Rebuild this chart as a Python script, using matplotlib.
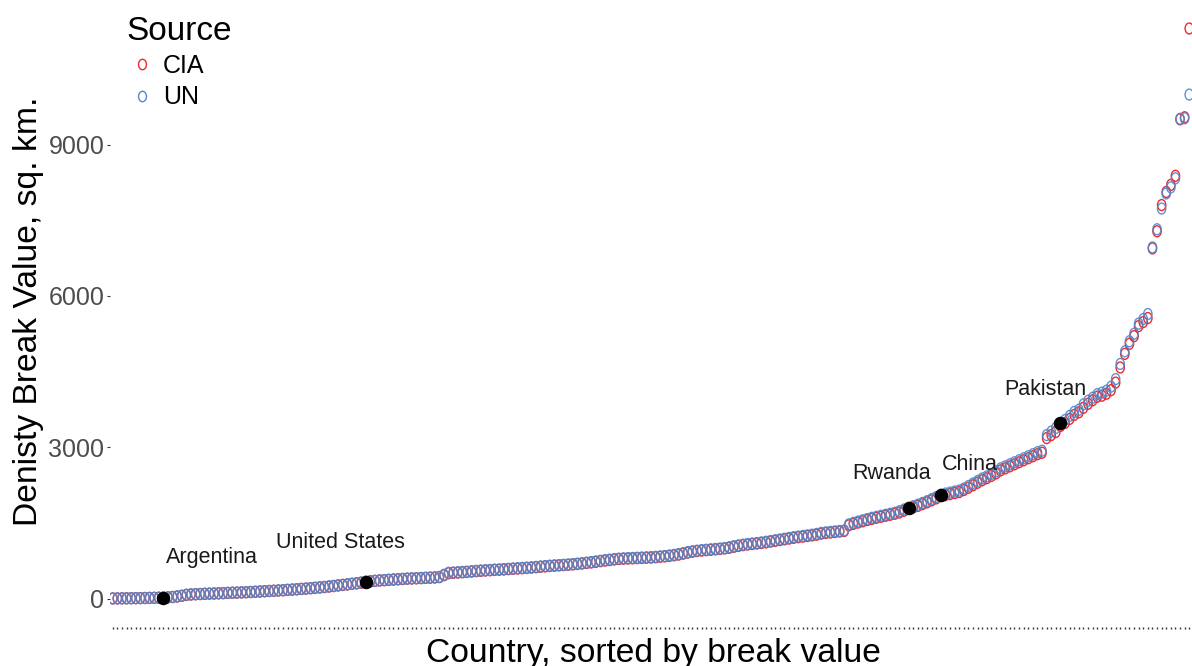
import numpy as np
import matplotlib
matplotlib.use("Agg")
from matplotlib import pyplot as plt
from matplotlib.path import Path
from matplotlib.transforms import Affine2D
from matplotlib.lines import Line2D

plt.rcParams['font.family'] = ['Liberation Sans', 'DejaVu Sans']

# density break values per country (people / sq. km), sorted by break value
un_values = [
    1, 2, 3, 4, 5, 6, 8, 9, 11, 13,
    15, 18, 24, 30, 42, 55, 76, 82, 86, 90,
    95, 98, 100, 104, 108, 112, 115, 118, 122, 126,
    130, 135, 140, 146, 150, 155, 160, 166, 172, 178,
    185, 192, 198, 206, 214, 222, 230, 240, 250, 262,
    272, 282, 294, 305, 318, 335, 345, 352, 360, 366,
    372, 378, 384, 390, 395, 399, 403, 407, 411, 415,
    420, 428, 470, 510, 515, 520, 526, 532, 540, 548,
    555, 560, 566, 572, 576, 582, 588, 594, 600, 606,
    612, 618, 626, 634, 642, 650, 656, 662, 668, 674,
    682, 690, 700, 710, 722, 734, 748, 760, 770, 782,
    790, 795, 800, 804, 808, 812, 816, 820, 826, 834,
    842, 852, 865, 880, 900, 920, 935, 948, 958, 966,
    975, 982, 990, 1000, 1015, 1035, 1052, 1068, 1080, 1090,
    1100, 1112, 1125, 1140, 1155, 1170, 1185, 1200, 1215, 1228,
    1240, 1252, 1265, 1280, 1300, 1310, 1320, 1330, 1340, 1350,
    1470, 1500, 1525, 1550, 1575, 1600, 1620, 1640, 1660, 1680,
    1700, 1730, 1765, 1800, 1830, 1860, 1895, 1930, 1970, 2010,
    2057, 2080, 2100, 2120, 2140, 2180, 2230, 2280, 2330, 2380,
    2420, 2470, 2520, 2580, 2620, 2660, 2700, 2740, 2780, 2820,
    2860, 2900, 2930, 3240, 3310, 3380, 3480, 3540, 3620, 3700,
    3740, 3850, 3920, 3980, 4050, 4080, 4120, 4200, 4350, 4650,
    4900, 5100, 5250, 5450, 5540, 5640, 6960, 7320, 7730, 8030,
    8150, 8330, 9510, 9520, 9990,
]

cia_values = [
    1, 2, 3, 4, 5, 7, 8, 10, 12, 14,
    16, 18, 23, 29, 40, 52, 70, 78, 84, 88,
    92, 96, 99, 102, 106, 110, 113, 116, 120, 124,
    128, 132, 138, 143, 148, 152, 158, 163, 170, 176,
    182, 189, 195, 203, 210, 218, 226, 236, 246, 258,
    268, 278, 290, 300, 312, 328, 340, 348, 356, 362,
    368, 374, 380, 386, 392, 396, 400, 404, 408, 412,
    416, 424, 462, 500, 508, 514, 520, 526, 534, 542,
    548, 554, 560, 566, 570, 576, 582, 588, 594, 600,
    606, 612, 620, 628, 636, 644, 650, 656, 662, 668,
    676, 684, 694, 704, 714, 726, 740, 752, 762, 774,
    782, 788, 792, 796, 800, 804, 808, 812, 818, 826,
    834, 844, 856, 870, 890, 910, 926, 940, 950, 958,
    966, 974, 982, 992, 1005, 1025, 1042, 1058, 1070, 1080,
    1090, 1100, 1112, 1128, 1142, 1158, 1172, 1188, 1202, 1215,
    1226, 1238, 1250, 1265, 1285, 1298, 1308, 1318, 1328, 1338,
    1450, 1480, 1505, 1530, 1555, 1578, 1600, 1620, 1640, 1660,
    1680, 1705, 1740, 1775, 1805, 1835, 1870, 1905, 1945, 1985,
    2030, 2050, 2070, 2090, 2110, 2150, 2195, 2245, 2295, 2345,
    2385, 2430, 2480, 2540, 2580, 2620, 2660, 2700, 2740, 2780,
    2820, 2860, 2890, 3180, 3240, 3300, 3420, 3480, 3560, 3640,
    3690, 3780, 3860, 3930, 4000, 4020, 4060, 4130, 4280, 4580,
    4850, 5050, 5200, 5400, 5480, 5560, 6940, 7280, 7800, 8060,
    8200, 8380, 9500, 9540, 11300,
]

# countries picked out on the curve: name, rank position
highlight_names = ["Argentina", "United States", "Rwanda", "China", "Pakistan"]
highlight_rank = [11, 55, 173, 180, 206]
# label offsets in points (dx, dy) from the highlighted point
label_offsets = [(35, 25), (-18, 24), (-12, 21), (21, 18), (-11, 20)]

y_ticks = [0, 3000, 6000, 9000]

RED = "#F0282D"
BLUE = "#4F88CC"

# open "o" shaped marker, a bit taller than wide
oval = Path.unit_circle().transformed(Affine2D().scale(0.76, 1.0))


def main():
    n = len(un_values)
    x = np.arange(n)
    un = np.array(un_values)
    cia = np.array(cia_values)

    fig = plt.figure(figsize=(11.92, 6.66), dpi=100)
    ax = fig.add_axes([110 / 1192, 39 / 666, 1082 / 1192, 627 / 666])

    ax.scatter(x, cia, marker=oval, s=62, facecolors="none",
               edgecolors=RED, linewidths=1.0, zorder=2)
    ax.scatter(x, un, marker=oval, s=62, facecolors="none",
               edgecolors=BLUE, linewidths=1.0, alpha=0.9, zorder=3)

    hx = np.array(highlight_rank)
    hy = un[hx]
    ax.scatter(hx, hy, s=75, color="black", zorder=4)
    for name, px, py, (dx, dy) in zip(highlight_names, hx, hy, label_offsets):
        ax.annotate(name, (px, py), xytext=(dx, dy), textcoords="offset points",
                    ha="center", va="baseline", fontsize=15.5, color="#1a1a1a")

    ymax = max(un.max(), cia.max())
    ax.set_xlim(-0.6, n - 1 + 0.6)
    ax.set_ylim(-0.05 * ymax, ymax * 1.05)

    ax.set_xticks(x)
    ax.set_xticklabels([])
    ax.set_yticks(y_ticks)
    ax.set_yticklabels([str(t) for t in y_ticks])
    ax.tick_params(axis="x", length=1.6, width=1.0, color="#333333")
    ax.tick_params(axis="y", length=2.5, width=0.8, color="#333333",
                   labelsize=18, labelcolor="#4D4D4D", pad=1.5)
    for side in ax.spines.values():
        side.set_visible(False)

    ax.set_xlabel("Country, sorted by break value", fontsize=24.2)
    ax.xaxis.set_label_coords(0.502, -0.018)
    ax.set_ylabel("Denisty Break Value, sq. km.", fontsize=24.2)
    ax.yaxis.set_label_coords(-0.061, 0.503)

    handles = [
        Line2D([], [], marker=oval, linestyle="none", markersize=7.5,
               markerfacecolor="none", markeredgecolor=RED, markeredgewidth=1.0),
        Line2D([], [], marker=oval, linestyle="none", markersize=7.5,
               markerfacecolor="none", markeredgecolor=BLUE, markeredgewidth=1.0),
    ]
    fig.legend(handles, ["CIA", "UN"], title="Source", loc="upper left",
               bbox_to_anchor=(119 / 1192, 1 - 8 / 666), frameon=False,
               fontsize=18, title_fontsize=24, alignment="left",
               handlelength=1.2, handletextpad=0.25, labelspacing=0.3,
               borderpad=0.3, borderaxespad=0)

    fig.savefig("out.png", dpi=100)


if __name__ == '__main__':
    main()
